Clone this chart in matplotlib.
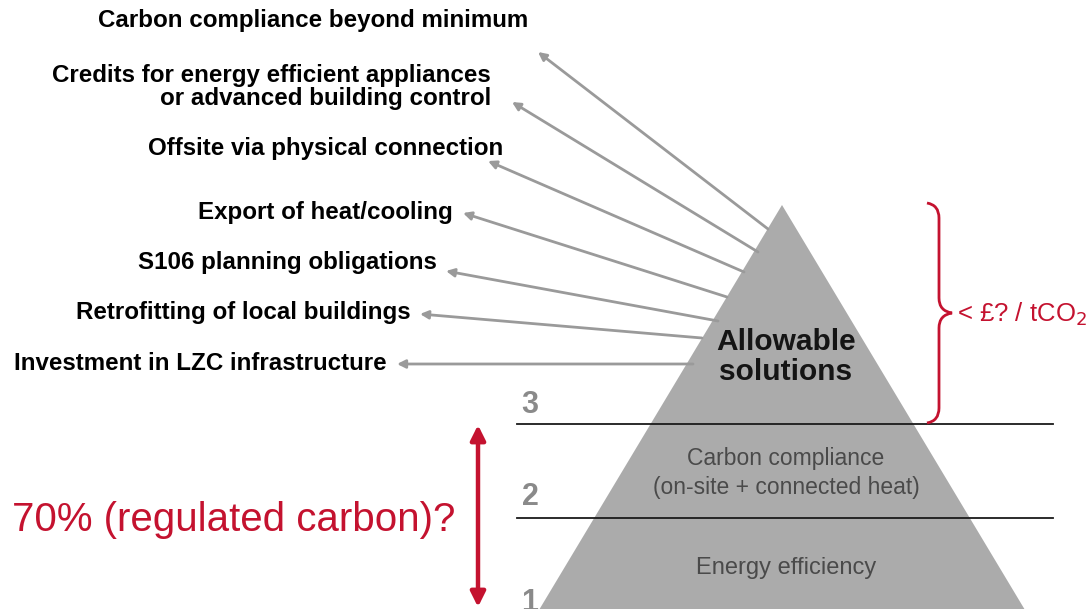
import matplotlib
matplotlib.use("Agg")
import matplotlib.pyplot as plt
from matplotlib.patches import Polygon, PathPatch
from matplotlib.path import Path

# Labels on the left, top to bottom
options = [
    "Carbon compliance beyond minimum",
    "Credits for energy efficient appliances\nor advanced building control",
    "Offsite via physical connection",
    "Export of heat/cooling",
    "S106 planning obligations",
    "Retrofitting of local buildings",
    "Investment in LZC infrastructure",
]
# label anchor (right edge, y centre) and arrow start/end in pixel space
label_pos = [(528, 20), (491, 87), (503, 148), (453, 212), (437, 263), (411, 313), (387, 363)]
arrow_from = [(768, 229), (758, 252), (744, 272), (727, 297), (718, 321), (702, 338), (693, 364)]
arrow_to = [(538, 52), (512, 102), (488, 161), (463, 213), (446, 271), (420, 314), (397, 364)]

tiers = ["Allowable\nsolutions", "Carbon compliance\n(on-site + connected heat)", "Energy efficiency"]
tier_numbers = ["3", "2", "1"]

red = "#c4122f"
grey_arrow = "#9a9a9a"

fig = plt.figure(figsize=(10.92, 6.09), dpi=100)
ax = fig.add_axes([0, 0, 1, 1])
ax.set_xlim(0, 1092)
ax.set_ylim(609, 0)
ax.axis("off")

# pyramid
apex = (782, 205)
slope = 0.6
base_y = 625
pyr = Polygon([apex, (apex[0] - slope * (base_y - apex[1]), base_y),
               (apex[0] + slope * (base_y - apex[1]), base_y)],
              closed=True, facecolor="#ababab", edgecolor="none", zorder=1)
ax.add_patch(pyr)

# tier divider lines
for y in [424, 518]:
    ax.plot([517, 1053], [y, y], color="#1a1a1a", lw=1.3, zorder=2)

# tier numbers
for num, y in zip(tier_numbers, [405, 497, 603]):
    ax.text(530, y, num, ha="center", va="center", fontsize=22, fontweight="bold",
            color="#8a8a8a", family="Liberation Sans", zorder=3)

# tier text
ax.text(786, 357, tiers[0], ha="center", va="center", fontsize=21.5, fontweight="bold",
        color="#151515", family="Liberation Sans", linespacing=1.05, zorder=3)
ax.text(786, 473, tiers[1], ha="center", va="center", fontsize=16.5,
        color="#4a4a4a", family="Liberation Sans", linespacing=1.35, zorder=3)
ax.text(786, 568, tiers[2], ha="center", va="center", fontsize=17,
        color="#4a4a4a", family="Liberation Sans", zorder=3)

# option labels and arrows
for text, (x, y), p0, p1 in zip(options, label_pos, arrow_from, arrow_to):
    ax.text(x, y, text, ha="right", va="center", fontsize=17.4, fontweight="bold",
            color="black", family="Liberation Sans", linespacing=0.95)
    ax.annotate("", xy=p1, xytext=p0,
                arrowprops=dict(arrowstyle="-|>", color=grey_arrow, lw=2,
                                mutation_scale=12, shrinkA=0, shrinkB=0))

# red brace
brace = Path([(927, 203), (939, 205), (939, 218),
              (939, 298), (939, 311), (952, 313),
              (939, 315), (939, 328),
              (939, 408), (939, 421), (927, 423)],
             [Path.MOVETO, Path.CURVE3, Path.CURVE3,
              Path.LINETO, Path.CURVE3, Path.CURVE3,
              Path.CURVE3, Path.CURVE3,
              Path.LINETO, Path.CURVE3, Path.CURVE3])
ax.add_patch(PathPatch(brace, facecolor="none", edgecolor=red, lw=2, zorder=4))
ax.text(957, 314, "< £? / tCO$_2$", ha="left", va="center", fontsize=18.5,
        color=red, family="Liberation Sans")

# 70% label with double arrow
ax.text(12, 520, "70% (regulated carbon)?", ha="left", va="center", fontsize=29,
        color=red, family="Liberation Sans")
ax.annotate("", xy=(478, 425), xytext=(478, 607),
            arrowprops=dict(arrowstyle="<|-|>", color=red, lw=3.2,
                            mutation_scale=22, shrinkA=0, shrinkB=0))

fig.savefig("out.png", dpi=100)
